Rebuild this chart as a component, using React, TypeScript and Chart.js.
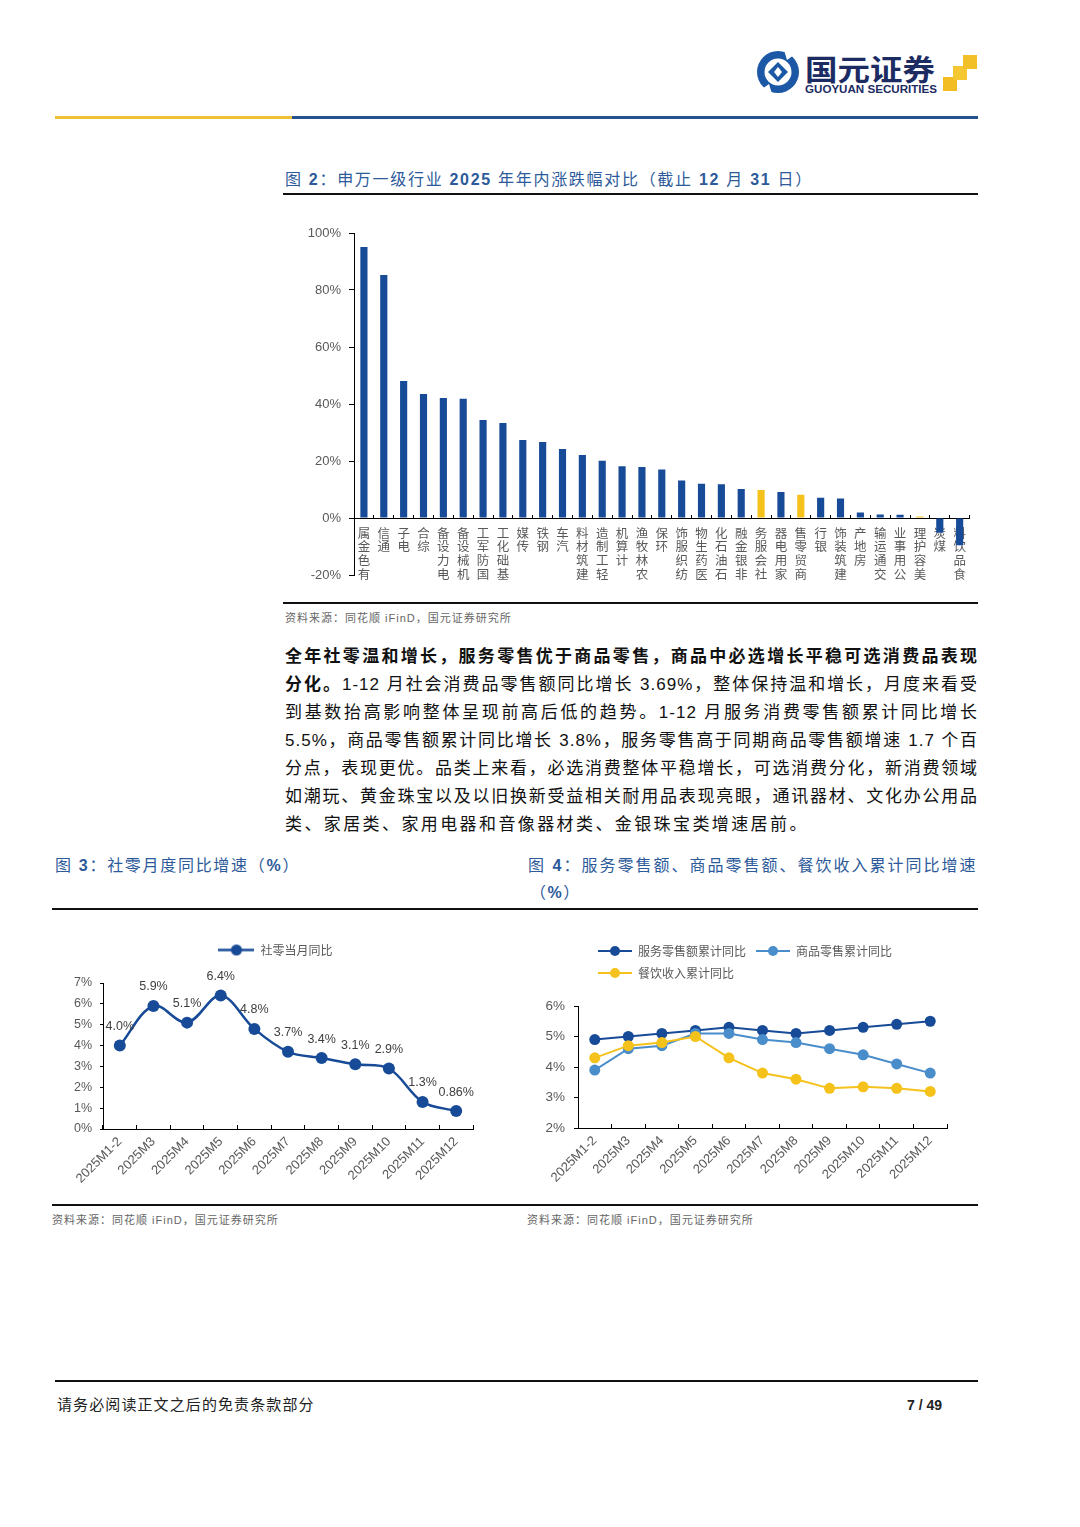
import React, { useEffect, useRef } from "react";
import { Chart, registerables } from "chart.js";

Chart.register(...registerables);

// ---------------- data ----------------
const industries = [
  "有色金属", "通信", "电子", "综合", "电力设备", "机械设备", "国防军工", "基础化工",
  "传媒", "钢铁", "汽车", "建筑材料", "轻工制造", "计算机", "农林牧渔", "环保",
  "纺织服饰", "医药生物", "石油石化", "非银金融", "社会服务", "家用电器", "商贸零售",
  "银行", "建筑装饰", "房地产", "交通运输", "公用事业", "美容护理", "煤炭", "食品饮料",
];
const industryChange = [
  95.1, 85.3, 48.1, 43.5, 42.1, 41.8, 34.4, 33.3,
  27.4, 26.7, 24.2, 22.1, 20.1, 18.2, 17.9, 17.0,
  13.2, 12.0, 11.8, 10.2, 9.8, 9.1, 8.2,
  7.1, 6.8, 1.9, 1.2, 1.1, 0.5, -5.2, -9.6,
];
const highlightIndustries = ["社会服务", "商贸零售", "美容护理"];
const barAxisMin = -20;
const barAxisMax = 100;
const barAxisStep = 20;

const months = [
  "2025M1-2", "2025M3", "2025M4", "2025M5", "2025M6", "2025M7",
  "2025M8", "2025M9", "2025M10", "2025M11", "2025M12",
];
const retailMonthlyYoY = [4.0, 5.9, 5.1, 6.4, 4.8, 3.7, 3.4, 3.1, 2.9, 1.3, 0.86];
const serviceCumYoY = [4.9, 5.0, 5.1, 5.2, 5.3, 5.2, 5.1, 5.2, 5.3, 5.4, 5.5];
const goodsCumYoY = [3.9, 4.6, 4.7, 5.1, 5.1, 4.9, 4.8, 4.6, 4.4, 4.1, 3.8];
const cateringCumYoY = [4.3, 4.7, 4.8, 5.0, 4.3, 3.8, 3.6, 3.3, 3.35, 3.3, 3.2];
const retailAxis = { min: 0, max: 7, step: 1 };
const cumAxis = { min: 2, max: 6, step: 1 };

// ---------------- styles ----------------
const CJK = '"Noto Sans CJK SC", "Noto Sans", sans-serif';
const LAT = '"Liberation Sans", Arial, "Noto Sans CJK SC", sans-serif';
const NAVY = "#174a97";
const GOLD = "#f5c21b";
const LIGHT = "#4a8dcb";
const TITLE_BLUE = "#2c5a9a";
const TICK_GREY = "#595959";

Chart.defaults.font.family = LAT;

function fmtPct(v: number) {
  const one = Math.abs(Math.round(v * 10) - v * 10) < 1e-9;
  return (one ? v.toFixed(1) : String(v)) + "%";
}

function makeMarker(color: string, w: number, r: number, lw: number) {
  const c = document.createElement("canvas");
  c.width = w;
  c.height = 2 * r + 2;
  const g = c.getContext("2d")!;
  g.strokeStyle = color;
  g.lineWidth = lw;
  g.beginPath();
  g.moveTo(0, c.height / 2);
  g.lineTo(w, c.height / 2);
  g.stroke();
  g.fillStyle = color;
  g.beginPath();
  g.arc(w / 2, c.height / 2, r, 0, Math.PI * 2);
  g.fill();
  return c;
}

function legendTweak(dx: number, extra: number) {
  return {
    id: "legendTweak",
    beforeLayout(chart: any) {
      const l = chart.legend;
      if (l && !l.__patched) {
        const orig = l.fit.bind(l);
        l.fit = function () {
          orig();
          this.height += extra;
        };
        l.__patched = true;
      }
    },
    afterLayout(chart: any) {
      const l = chart.legend;
      if (l) {
        l.left += dx;
        l.right += dx;
      }
    },
  };
}

const pointLabels = {
  id: "pointLabels",
  afterDatasetsDraw(chart: any) {
    const ctx = chart.ctx;
    const meta = chart.getDatasetMeta(0);
    const values = chart.data.datasets[0].data as number[];
    ctx.save();
    ctx.font = `12.5px ${LAT}`;
    ctx.fillStyle = "#404040";
    ctx.textAlign = "center";
    ctx.textBaseline = "middle";
    meta.data.forEach((pt: any, i: number) => {
      ctx.fillText(fmtPct(values[i]), pt.x, pt.y - 19);
    });
    ctx.restore();
  },
};

function legendLabels(markerW: number, r: number, lw: number) {
  return (chart: any) =>
    chart.data.datasets.map((ds: any, i: number) => ({
      text: ds.label,
      pointStyle: makeMarker(ds.borderColor, markerW, r, lw),
      fillStyle: ds.borderColor,
      strokeStyle: ds.borderColor,
      lineWidth: 0,
      hidden: false,
      datasetIndex: i,
      fontColor: TICK_GREY,
    }));
}

function barConfig(): any {
  return {
    type: "bar",
    data: {
      // stacked upright characters, read bottom-to-top (last character next to the axis)
      labels: industries.map((n) => n.split("").reverse()),
      datasets: [
        {
          data: industryChange,
          backgroundColor: industries.map((n) => (highlightIndustries.includes(n) ? GOLD : NAVY)),
          borderWidth: 0,
          barPercentage: 0.36,
          categoryPercentage: 1,
        },
      ],
    },
    options: {
      responsive: false,
      animation: false,
      layout: { padding: { top: 18, bottom: 20, right: 6, left: 0 } },
      plugins: { legend: { display: false }, tooltip: { enabled: false } },
      scales: {
        x: {
          position: { y: 0 },
          grid: { offset: true, drawOnChartArea: false, drawTicks: true, tickLength: -4, color: "#000" },
          border: { color: "#000", width: 1 },
          ticks: {
            autoSkip: false,
            minRotation: 0,
            maxRotation: 0,
            padding: 12,
            color: TICK_GREY,
            font: { family: CJK, size: 12.5, lineHeight: 1.1 },
          },
        },
        y: {
          min: barAxisMin,
          max: barAxisMax,
          afterFit: (s: any) => {
            s.width = 71;
          },
          grid: { drawOnChartArea: false, drawTicks: true, tickLength: 5, color: "#000" },
          border: { color: "#000", width: 1 },
          ticks: {
            stepSize: barAxisStep,
            padding: 8,
            color: TICK_GREY,
            font: { family: LAT, size: 13 },
            callback: (v: any) => v + "%",
          },
        },
      },
    },
  };
}

function lineXScale(h: number) {
  return {
    offset: true,
    afterFit: (s: any) => {
      s.height = h;
    },
    grid: { offset: true, drawOnChartArea: false, drawTicks: true, tickLength: -4, color: "#000" },
    border: { color: "#000", width: 1 },
    ticks: {
      autoSkip: false,
      minRotation: 45,
      maxRotation: 45,
      padding: 9,
      color: TICK_GREY,
      font: { family: LAT, size: 13 },
    },
  };
}

function retailConfig(): any {
  return {
    type: "line",
    data: {
      labels: months,
      datasets: [
        {
          label: "社零当月同比",
          data: retailMonthlyYoY,
          borderColor: NAVY,
          backgroundColor: NAVY,
          pointBackgroundColor: NAVY,
          pointBorderColor: NAVY,
          pointRadius: 6,
          pointBorderWidth: 0,
          borderWidth: 2.5,
          tension: 0.35,
        },
      ],
    },
    options: {
      responsive: false,
      animation: false,
      layout: { padding: { top: 4, right: 7, left: 0, bottom: 0 } },
      plugins: {
        tooltip: { enabled: false },
        legend: {
          position: "top",
          align: "center",
          labels: {
            usePointStyle: true,
            pointStyleWidth: 36,
            padding: 10,
            color: TICK_GREY,
            font: { family: CJK, size: 12 },
            generateLabels: legendLabels(36, 5.5, 2.5),
          },
        },
      },
      scales: {
        x: lineXScale(71),
        y: {
          min: retailAxis.min,
          max: retailAxis.max,
          afterFit: (s: any) => {
            s.width = 51;
          },
          grid: { drawOnChartArea: false, drawTicks: true, tickLength: 3, color: "#000" },
          border: { color: "#000", width: 1 },
          ticks: {
            stepSize: retailAxis.step,
            padding: 8,
            color: TICK_GREY,
            font: { family: LAT, size: 12.5 },
            callback: (v: any) => v + "%",
          },
        },
      },
    },
    plugins: [legendTweak(13, 17), pointLabels],
  };
}

function cumConfig(): any {
  const ds = (label: string, data: number[], color: string, order: number) => ({
    label,
    data,
    order,
    borderColor: color,
    backgroundColor: color,
    pointBackgroundColor: color,
    pointBorderColor: color,
    pointRadius: 5.5,
    pointBorderWidth: 0,
    borderWidth: 2,
    tension: 0,
  });
  return {
    type: "line",
    data: {
      labels: months,
      datasets: [
        ds("服务零售额累计同比", serviceCumYoY, NAVY, 2),
        ds("商品零售累计同比", goodsCumYoY, LIGHT, 1),
        ds("餐饮收入累计同比", cateringCumYoY, GOLD, 0),
      ],
    },
    options: {
      responsive: false,
      animation: false,
      layout: { padding: { top: 0, right: 13, left: 0, bottom: 0 } },
      plugins: {
        tooltip: { enabled: false },
        legend: {
          position: "top",
          align: "start",
          labels: {
            usePointStyle: true,
            pointStyleWidth: 34,
            padding: 10,
            color: TICK_GREY,
            font: { family: CJK, size: 12 },
            generateLabels: legendLabels(34, 5, 2),
          },
        },
      },
      scales: {
        x: lineXScale(72),
        y: {
          min: cumAxis.min,
          max: cumAxis.max,
          afterFit: (s: any) => {
            s.width = 53;
          },
          grid: { drawOnChartArea: false, drawTicks: true, tickLength: 4, color: "#000" },
          border: { color: "#000", width: 1 },
          ticks: {
            stepSize: cumAxis.step,
            padding: 9,
            color: TICK_GREY,
            font: { family: LAT, size: 13.5 },
            callback: (v: any) => v + "%",
          },
        },
      },
    },
    plugins: [legendTweak(63, 17)],
  };
}

function ChartBox(props: { left: number; top: number; width: number; height: number; make: () => any }) {
  const ref = useRef<HTMLCanvasElement>(null);
  useEffect(() => {
    const chart = new Chart(ref.current!, props.make());
    return () => chart.destroy();
  }, []);
  const { left, top, width, height } = props;
  return (
    <div style={{ position: "absolute", left, top, width, height }}>
      <canvas ref={ref} width={width} height={height} style={{ width, height, display: "block" }} />
    </div>
  );
}

function Rule(p: { left: number; top: number; width: number; h?: number; color?: string }) {
  return (
    <div
      style={{
        position: "absolute",
        left: p.left,
        top: p.top,
        width: p.width,
        height: p.h ?? 2,
        background: p.color ?? "#111",
      }}
    />
  );
}

const B = (p: { children: any }) => (
  <span style={{ fontFamily: LAT, fontWeight: 700 }}>{p.children}</span>
);

function Text(p: {
  left: number;
  top: number;
  width?: number;
  size: number;
  lh: number;
  color?: string;
  ls?: number;
  weight?: number;
  justify?: boolean;
  children: any;
}) {
  return (
    <div
      style={{
        position: "absolute",
        left: p.left,
        top: p.top,
        width: p.width,
        fontSize: p.size,
        lineHeight: p.lh + "px",
        height: p.lh,
        color: p.color ?? "#111",
        letterSpacing: p.ls ?? 0,
        fontWeight: p.weight ?? 400,
        fontFamily: `"Liberation Sans", ${CJK}`,
        textAlign: p.justify ? "justify" : "left",
        textAlignLast: p.justify ? "justify" : "auto",
        whiteSpace: p.width ? "normal" : "nowrap",
      } as any}
    >
      {p.children}
    </div>
  );
}

function Logo() {
  return (
    <svg style={{ position: "absolute", left: 754, top: 46 }} width={230} height={52} viewBox="0 0 230 52">
      <circle cx="24" cy="26" r="21" fill="#1d58a6" />
      <circle cx="24" cy="26" r="13.5" fill="#fff" />
      <path d="M24 16 L34 26 L24 36 L14 26 Z" fill="#1d58a6" />
      <path d="M20 26 L24 21 L28 26 L24 31 Z" fill="#fff" />
      <path d="M30 4 L40 9 L33 14 Z" fill="#fff" />
      <path d="M18 48 L8 43 L15 38 Z" fill="#fff" />
      <text
        x="51"
        y="35"
        fontSize="29"
        fontWeight="700"
        fill="#1c2c63"
        fontFamily={CJK}
        textLength="130"
        lengthAdjust="spacingAndGlyphs"
      >
        国元证券
      </text>
      <text
        x="51"
        y="47"
        fontSize="10.5"
        fontWeight="700"
        fill="#1c2c63"
        fontFamily='"Liberation Sans", Arial, sans-serif'
        textLength="132"
        lengthAdjust="spacingAndGlyphs"
      >
        GUOYUAN SECURITIES
      </text>
      <rect x="189" y="31" width="14" height="14" fill="#f2bd22" />
      <rect x="199" y="20" width="14" height="14" fill="#f5c833" />
      <rect x="209" y="9" width="14" height="14" fill="#f2c12a" />
    </svg>
  );
}

export default function App() {
  const pLeft = 285;
  const pWidth = 693;
  const pTop = 643;
  const pLh = 28;
  return (
    <div
      style={{
        position: "absolute",
        left: 0,
        top: 0,
        width: 1080,
        height: 1527,
        background: "#fff",
        overflow: "hidden",
        fontFamily: CJK,
      }}
    >
      <Logo />
      <Rule left={55} top={116} width={237} h={3} color="#eec035" />
      <Rule left={292} top={116} width={686} h={3} color="#27508f" />

      {/* Figure 2 */}
      <Text left={285} top={169} size={16} lh={22} color={TITLE_BLUE} ls={1.7}>
        图 <B>2</B>：申万一级行业 <B>2025</B> 年年内涨跌幅对比（截止 <B>12</B> 月 <B>31</B> 日）
      </Text>
      <Rule left={283} top={193} width={695} h={2} />
      <ChartBox left={283} top={215} width={695} height={380} make={barConfig} />
      <Rule left={283} top={602} width={695} h={2} />
      <Text left={285} top={610} size={11} lh={16} color="#666" ls={1}>
        资料来源：同花顺 iFinD，国元证券研究所
      </Text>

      {/* Paragraph */}
      <Text left={pLeft} top={pTop} width={pWidth} size={17} lh={pLh} ls={1} weight={700} justify>
        全年社零温和增长，服务零售优于商品零售，商品中必选增长平稳可选消费品表现
      </Text>
      <Text left={pLeft} top={pTop + pLh} width={pWidth} size={17} lh={pLh} ls={1} justify>
        <span style={{ fontWeight: 700 }}>分化。</span>1-12 月社会消费品零售额同比增长 3.69%，整体保持温和增长，月度来看受
      </Text>
      <Text left={pLeft} top={pTop + pLh * 2} width={pWidth} size={17} lh={pLh} ls={1} justify>
        到基数抬高影响整体呈现前高后低的趋势。1-12 月服务消费零售额累计同比增长
      </Text>
      <Text left={pLeft} top={pTop + pLh * 3} width={pWidth} size={17} lh={pLh} ls={1} justify>
        5.5%，商品零售额累计同比增长 3.8%，服务零售高于同期商品零售额增速 1.7 个百
      </Text>
      <Text left={pLeft} top={pTop + pLh * 4} width={pWidth} size={17} lh={pLh} ls={1} justify>
        分点，表现更优。品类上来看，必选消费整体平稳增长，可选消费分化，新消费领域
      </Text>
      <Text left={pLeft} top={pTop + pLh * 5} width={pWidth} size={17} lh={pLh} ls={1} justify>
        如潮玩、黄金珠宝以及以旧换新受益相关耐用品表现亮眼，通讯器材、文化办公用品
      </Text>
      <Text left={pLeft} top={pTop + pLh * 6} size={17} lh={pLh} ls={2.4}>
        类、家居类、家用电器和音像器材类、金银珠宝类增速居前。
      </Text>

      {/* Figure 3 & 4 titles */}
      <Text left={55} top={855} size={16} lh={22} color={TITLE_BLUE} ls={1.7}>
        图 <B>3</B>：社零月度同比增速（<B>%</B>）
      </Text>
      <Text left={528} top={855} width={449} size={16} lh={22} color={TITLE_BLUE} ls={1.5} justify>
        图 <B>4</B>：服务零售额、商品零售额、餐饮收入累计同比增速
      </Text>
      <Text left={530} top={882} size={16} lh={22} color={TITLE_BLUE} ls={1.5}>
        （<B>%</B>）
      </Text>
      <Rule left={52} top={908} width={926} h={2} />

      <ChartBox left={52} top={930} width={428} height={270} make={retailConfig} />
      <ChartBox left={525} top={935} width={435} height={265} make={cumConfig} />

      <Rule left={52} top={1204} width={926} h={2} />
      <Text left={52} top={1212} size={11} lh={16} color="#666" ls={1}>
        资料来源：同花顺 iFinD，国元证券研究所
      </Text>
      <Text left={527} top={1212} size={11} lh={16} color="#666" ls={1}>
        资料来源：同花顺 iFinD，国元证券研究所
      </Text>

      {/* Footer */}
      <Rule left={55} top={1380} width={923} h={2} />
      <Text left={57} top={1394} size={15} lh={22} color="#222" ls={1.1}>
        请务必阅读正文之后的免责条款部分
      </Text>
      <Text left={907} top={1395} size={14} lh={20} color="#222" weight={700}>
        7 / 49
      </Text>
    </div>
  );
}
